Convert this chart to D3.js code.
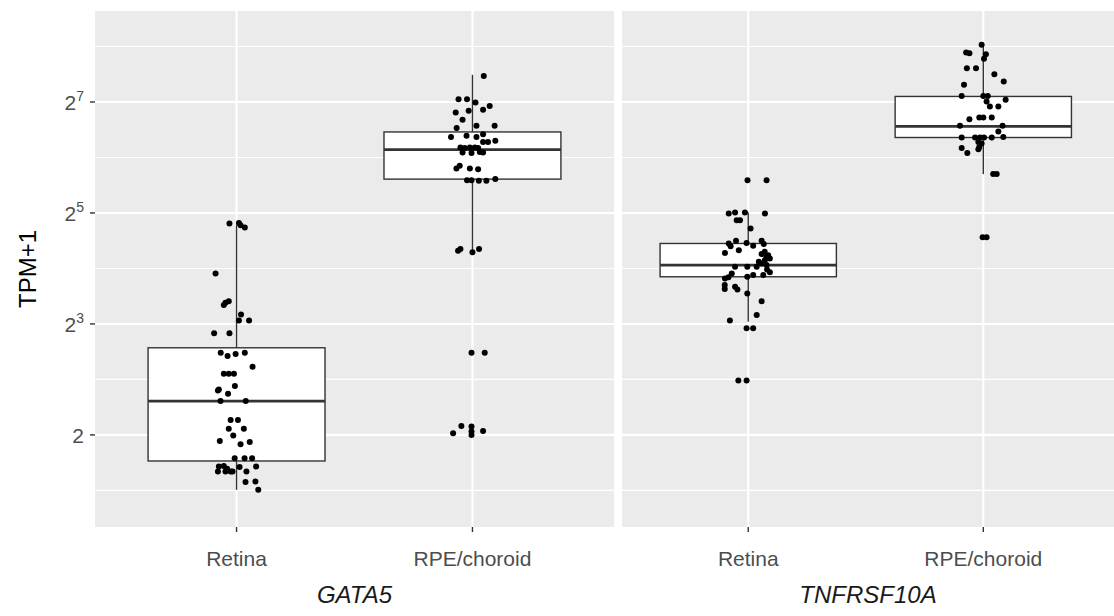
<!DOCTYPE html>
<html>
<head>
<meta charset="utf-8">
<script src="https://cdn.jsdelivr.net/npm/d3@7"></script>
<style>
  body { margin: 0; background: #fff; }
  text { font-family: "Liberation Sans", Arial, sans-serif; }
</style>
</head>
<body>
<svg id="chart" width="1114" height="616"></svg>
<script>
const genes = ["GATA5", "TNFRSF10A"];
const tissues = ["Retina", "RPE/choroid"];
const yTicks = [1, 3, 5, 7];       // log2(TPM+1)
const yMinor = [0, 2, 4, 6, 8];

// box stats, log2(TPM+1): [whisker low, q1, median, q3, whisker high]
const boxGata5Retina = [0.01, 0.53, 1.61, 2.57, 4.78];
const boxGata5Rpe = [4.30, 5.61, 6.14, 6.46, 7.49];
const boxTnfRetina = [3.04, 3.85, 4.06, 4.45, 5.01];
const boxTnfRpe = [5.70, 6.36, 6.56, 7.10, 8.03];

// jittered samples: [x offset in category units, log2(TPM+1)]
const ptsGata5Retina = [
  [-0.030, 4.81], [0.010, 4.82], [0.017, 4.78], [0.035, 4.74], [-0.089, 3.91],
  [-0.054, 3.34], [-0.047, 3.38], [-0.033, 3.41], [0.019, 3.17], [0.010, 3.06],
  [0.053, 3.06], [-0.095, 2.83], [-0.030, 2.83], [-0.067, 2.48], [-0.038, 2.42],
  [-0.004, 2.46], [0.035, 2.48], [0.068, 2.23], [-0.054, 2.10], [-0.033, 2.10],
  [-0.011, 2.10], [-0.075, 1.82], [-0.079, 1.80], [-0.007, 1.88], [-0.036, 1.74],
  [-0.068, 1.61], [0.039, 1.61], [-0.025, 1.27], [0.006, 1.27], [-0.033, 1.11],
  [0.031, 1.11], [-0.014, 0.99], [-0.071, 0.89], [0.056, 0.87], [0.017, 0.83],
  [-0.008, 0.58], [0.034, 0.58], [0.066, 0.58], [-0.075, 0.43], [-0.054, 0.44],
  [-0.040, 0.39], [-0.047, 0.34], [-0.079, 0.34], [-0.025, 0.34], [0.013, 0.42],
  [0.042, 0.34], [0.083, 0.43], [0.038, 0.15], [0.080, 0.16], [0.092, 0.01],
  [-0.017, 0.34]
];
const ptsGata5Rpe = [
  [0.048, 7.47], [-0.059, 7.05], [-0.023, 7.05], [0.013, 6.99], [0.073, 6.93],
  [0.045, 6.86], [-0.071, 6.81], [-0.016, 6.84], [-0.042, 6.68], [-0.067, 6.53],
  [0.017, 6.57], [0.094, 6.57], [-0.091, 6.37], [-0.025, 6.39], [0.017, 6.37],
  [0.045, 6.42], [0.045, 6.28], [0.066, 6.28], [0.097, 6.30], [-0.051, 6.18],
  [-0.033, 6.17], [-0.011, 6.18], [0.010, 6.18], [0.024, 6.17], [0.031, 6.10],
  [0.045, 6.09], [-0.042, 6.09], [-0.004, 6.08], [-0.068, 5.80], [-0.054, 5.85],
  [-0.011, 5.80], [0.024, 5.79], [-0.023, 5.59], [-0.004, 5.59], [0.027, 5.58],
  [0.059, 5.58], [0.097, 5.61], [-0.061, 4.32], [-0.051, 4.35], [0.000, 4.29],
  [0.028, 4.35], [-0.004, 2.48], [0.052, 2.48], [-0.082, 1.03], [-0.047, 1.16],
  [-0.004, 1.15], [-0.004, 1.06], [-0.004, 1.00], [0.045, 1.07]
];
const ptsTnfRetina = [
  [-0.003, 5.59], [0.078, 5.59], [-0.083, 4.99], [-0.056, 5.01], [-0.014, 5.01],
  [0.071, 4.99], [-0.049, 4.87], [-0.035, 4.87], [0.010, 4.72], [-0.083, 4.45],
  [-0.052, 4.50], [-0.007, 4.46], [0.021, 4.41], [0.057, 4.50], [0.066, 4.44],
  [-0.099, 4.28], [0.057, 4.26], [0.078, 4.21], [0.092, 4.18], [0.071, 4.15],
  [0.057, 4.09], [-0.056, 4.03], [-0.004, 4.03], [0.036, 4.03], [0.078, 4.06],
  [-0.070, 3.91], [-0.084, 3.84], [-0.099, 3.82], [-0.004, 3.85], [0.021, 3.88],
  [0.064, 3.88], [0.092, 3.93], [-0.100, 3.70], [-0.100, 3.63], [-0.056, 3.67],
  [-0.046, 3.62], [-0.004, 3.55], [0.057, 3.41], [0.036, 3.16], [-0.078, 3.06],
  [-0.007, 2.92], [0.021, 2.92], [-0.042, 1.98], [-0.007, 1.98], [0.085, 4.24],
  [0.070, 4.30], [-0.040, 4.33], [0.045, 4.12], [0.080, 3.98], [-0.075, 4.40]
];
const ptsTnfRpe = [
  [-0.007, 8.03], [-0.073, 7.89], [-0.059, 7.88], [0.011, 7.86], [0.003, 7.78],
  [-0.070, 7.61], [-0.031, 7.61], [0.047, 7.50], [0.087, 7.37], [-0.082, 7.31],
  [-0.092, 7.11], [0.000, 7.11], [0.019, 7.11], [0.095, 7.04], [0.014, 7.01],
  [0.028, 6.92], [0.064, 6.92], [-0.059, 6.69], [-0.017, 6.72], [0.000, 6.72],
  [0.036, 6.72], [-0.099, 6.57], [0.082, 6.57], [-0.092, 6.36], [-0.035, 6.36],
  [-0.014, 6.36], [0.003, 6.36], [0.036, 6.36], [0.064, 6.47], [0.085, 6.37],
  [-0.021, 6.28], [-0.007, 6.25], [-0.017, 6.19], [-0.092, 6.17], [-0.068, 6.08],
  [-0.021, 6.15], [0.042, 5.70], [0.057, 5.70], [-0.003, 4.56], [0.014, 4.56]
];

const panels = [
  { gene: genes[0], x0: 95, x1: 614, dom: [0.4, 2.6],
    groups: [{ box: boxGata5Retina, pts: ptsGata5Retina }, { box: boxGata5Rpe, pts: ptsGata5Rpe }] },
  { gene: genes[1], x0: 622, x1: 1114, dom: [0.463, 2.556],
    groups: [{ box: boxTnfRetina, pts: ptsTnfRetina }, { box: boxTnfRpe, pts: ptsTnfRpe }] }
];

const svg = d3.select("#chart");
const yTop = 11, yBottom = 527;
const y = d3.scaleLinear().domain([-0.66, 8.64]).range([yBottom, yTop]);
const boxW = 0.75;

panels.forEach((p) => {
  const x = d3.scaleLinear().domain(p.dom).range([p.x0, p.x1]);
  const g = svg.append("g");

  g.append("rect")
    .attr("x", p.x0).attr("y", yTop)
    .attr("width", p.x1 - p.x0).attr("height", yBottom - yTop)
    .attr("fill", "#EBEBEB");

  // grid
  g.selectAll(".minor").data(yMinor).enter().append("line")
    .attr("x1", p.x0).attr("x2", p.x1)
    .attr("y1", (d) => y(d)).attr("y2", (d) => y(d))
    .attr("stroke", "#fff").attr("stroke-width", 1.1);
  g.selectAll(".major").data(yTicks).enter().append("line")
    .attr("x1", p.x0).attr("x2", p.x1)
    .attr("y1", (d) => y(d)).attr("y2", (d) => y(d))
    .attr("stroke", "#fff").attr("stroke-width", 2.1);
  g.selectAll(".vmajor").data(tissues).enter().append("line")
    .attr("x1", (d, i) => x(i + 1)).attr("x2", (d, i) => x(i + 1))
    .attr("y1", yTop).attr("y2", yBottom)
    .attr("stroke", "#fff").attr("stroke-width", 2.1);

  // bottom ticks + labels
  g.selectAll(".xtick").data(tissues).enter().append("line")
    .attr("x1", (d, i) => x(i + 1)).attr("x2", (d, i) => x(i + 1))
    .attr("y1", yBottom).attr("y2", yBottom + 5)
    .attr("stroke", "#333").attr("stroke-width", 1.4);
  g.selectAll(".xlab").data(tissues).enter().append("text")
    .attr("x", (d, i) => x(i + 1)).attr("y", 566)
    .attr("text-anchor", "middle")
    .attr("font-size", 21).attr("fill", "#4D4D4D")
    .text((d) => d);

  g.append("text")
    .attr("x", (p.x0 + p.x1) / 2).attr("y", 603)
    .attr("text-anchor", "middle")
    .attr("font-size", 24).attr("font-style", "italic")
    .attr("fill", "#1A1A1A")
    .text(p.gene);

  // boxes
  p.groups.forEach((grp, i) => {
    const cx = x(i + 1);
    const [lo, q1, med, q3, hi] = grp.box;
    const bl = x(i + 1 - boxW / 2), br = x(i + 1 + boxW / 2);
    g.append("line").attr("x1", cx).attr("x2", cx)
      .attr("y1", y(q3)).attr("y2", y(hi))
      .attr("stroke", "#333").attr("stroke-width", 1.4);
    g.append("line").attr("x1", cx).attr("x2", cx)
      .attr("y1", y(q1)).attr("y2", y(lo))
      .attr("stroke", "#333").attr("stroke-width", 1.4);
    g.append("rect")
      .attr("x", bl).attr("y", y(q3))
      .attr("width", br - bl).attr("height", y(q1) - y(q3))
      .attr("fill", "#fff").attr("stroke", "#333").attr("stroke-width", 1.4);
    g.append("line").attr("x1", bl).attr("x2", br)
      .attr("y1", y(med)).attr("y2", y(med))
      .attr("stroke", "#333").attr("stroke-width", 2.8);
  });

  // jittered points
  p.groups.forEach((grp, i) => {
    g.selectAll(null).data(grp.pts).enter().append("circle")
      .attr("cx", (d) => x(i + 1 + d[0]))
      .attr("cy", (d) => y(d[1]))
      .attr("r", 3)
      .attr("fill", "#000");
  });
});

// y axis
const yAxis = svg.append("g");
yAxis.selectAll("line").data(yTicks).enter().append("line")
  .attr("x1", 90).attr("x2", 95)
  .attr("y1", (d) => y(d)).attr("y2", (d) => y(d))
  .attr("stroke", "#333").attr("stroke-width", 1.4);
const yl = yAxis.selectAll("text").data(yTicks).enter().append("text")
  .attr("x", 84).attr("y", (d) => y(d) + 8)
  .attr("text-anchor", "end")
  .attr("font-size", 21).attr("fill", "#4D4D4D");
yl.append("tspan").text("2");
yl.filter((d) => d !== 1).append("tspan")
  .attr("dy", -9).attr("font-size", 14)
  .text((d) => d);

svg.append("text")
  .attr("transform", `translate(36, ${(yTop + yBottom) / 2}) rotate(-90)`)
  .attr("text-anchor", "middle")
  .attr("font-size", 24).attr("fill", "#000")
  .text("TPM+1");
</script>
</body>
</html>
